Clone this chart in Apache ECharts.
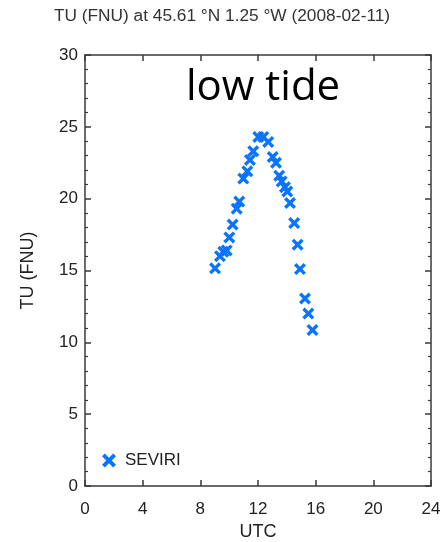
<!DOCTYPE html>
<html>
<head>
<meta charset="utf-8">
<script src="https://cdn.jsdelivr.net/npm/echarts@6/dist/echarts.min.js"></script>
<style>html,body{margin:0;padding:0;background:#fff}#c{width:444px;height:542px}</style>
</head>
<body>
<div id="c"></div>
<script>
const titleText = "TU (FNU) at 45.61 °N 1.25 °W (2008-02-11)";
const annotation = "low tide";
const seriesName = "SEVIRI";
const utcHours = [9.02, 9.36, 9.59, 9.83, 10.01, 10.24, 10.52, 10.70, 10.98, 11.26, 11.44, 11.67, 12.02, 12.37, 12.71, 13.02, 13.25, 13.47, 13.64, 13.87, 14.03, 14.22, 14.51, 14.75, 14.91, 15.26, 15.49, 15.78];
const tuValues = [15.15, 16.0, 16.3, 16.4, 17.3, 18.2, 19.3, 19.8, 21.4, 21.9, 22.7, 23.3, 24.3, 24.3, 23.95, 22.9, 22.5, 21.6, 21.2, 20.8, 20.5, 19.7, 18.3, 16.8, 15.1, 13.05, 12.0, 10.85];
const xTicks = [0, 4, 8, 12, 16, 20, 24];
const yTicks = [0, 5, 10, 15, 20, 25, 30];

const xSymbol = 'path://M2,0 L5,3 L8,0 L10,2 L7,5 L10,8 L8,10 L5,7 L2,10 L0,8 L3,5 L0,2 Z';
const blue = '#0a74ff';
const axisColor = '#3a3a3a';
const font = 'Liberation Sans, Arial, sans-serif';

const chart = echarts.init(document.getElementById('c'));
const axisLine = { show: true, onZero: false, lineStyle: { color: axisColor, width: 1.5 } };
const majorTick = { show: true, inside: true, length: 6, lineStyle: { color: axisColor, width: 1.5 } };
const minorTick = { show: true, splitNumber: 5, length: 3, lineStyle: { color: axisColor, width: 1.2 } };
chart.setOption({
  animation: false,
  title: {
    text: titleText, left: 'center', top: 3,
    textStyle: { fontFamily: font, fontSize: 17.3, fontWeight: 'normal', color: '#333' }
  },
  legend: {
    show: true, left: 97, top: 447, itemWidth: 14, itemHeight: 14,
    data: [{ name: seriesName, icon: xSymbol }],
    textStyle: { fontFamily: font, fontSize: 17, color: '#222', padding: [0, 0, 0, 4] }
  },
  grid: { left: 85, right: 13, top: 55, bottom: 56, containLabel: false, outerBoundsMode: 'none' },
  xAxis: [{
    type: 'value', min: 0, max: 24, interval: 4,
    name: 'UTC', nameLocation: 'middle', nameGap: 37,
    nameTextStyle: { fontFamily: font, fontSize: 18, color: '#222' },
    axisLine: axisLine, axisTick: majorTick,
    axisLabel: { fontFamily: font, fontSize: 17, color: '#222', margin: 15,
      formatter: v => xTicks.includes(v) ? String(v) : '' },
    splitLine: { show: false }
  }, {
    type: 'value', position: 'top', min: 0, max: 24, interval: 4,
    axisLine: axisLine, axisTick: majorTick,
    axisLabel: { show: false }, splitLine: { show: false }
  }],
  yAxis: [{
    type: 'value', min: 0, max: 30, interval: 5,
    name: 'TU (FNU)', nameLocation: 'middle', nameGap: 48, nameRotate: 90,
    nameTextStyle: { fontFamily: font, fontSize: 18, color: '#222' },
    axisLine: axisLine, axisTick: majorTick, minorTick: minorTick,
    axisLabel: { fontFamily: font, fontSize: 17, color: '#222', margin: 7,
      formatter: v => yTicks.includes(v) ? String(v) : '' },
    splitLine: { show: false }
  }, {
    type: 'value', position: 'right', min: 0, max: 30, interval: 5,
    axisLine: axisLine, axisTick: majorTick, minorTick: minorTick,
    axisLabel: { show: false }, splitLine: { show: false }
  }],
  series: [{
    name: seriesName, type: 'scatter',
    xAxisIndex: 0, yAxisIndex: 0,
    symbol: xSymbol, symbolSize: 12,
    itemStyle: { color: blue, opacity: 1 },
    data: utcHours.map((x, i) => [x, tuValues[i]])
  }],
  graphic: [{
    type: 'text', left: 186, top: 67,
    style: { text: annotation, fontFamily: 'Open Sans, Liberation Sans, sans-serif', fontSize: 42, fill: '#000' }
  }]
});
</script>
</body>
</html>
